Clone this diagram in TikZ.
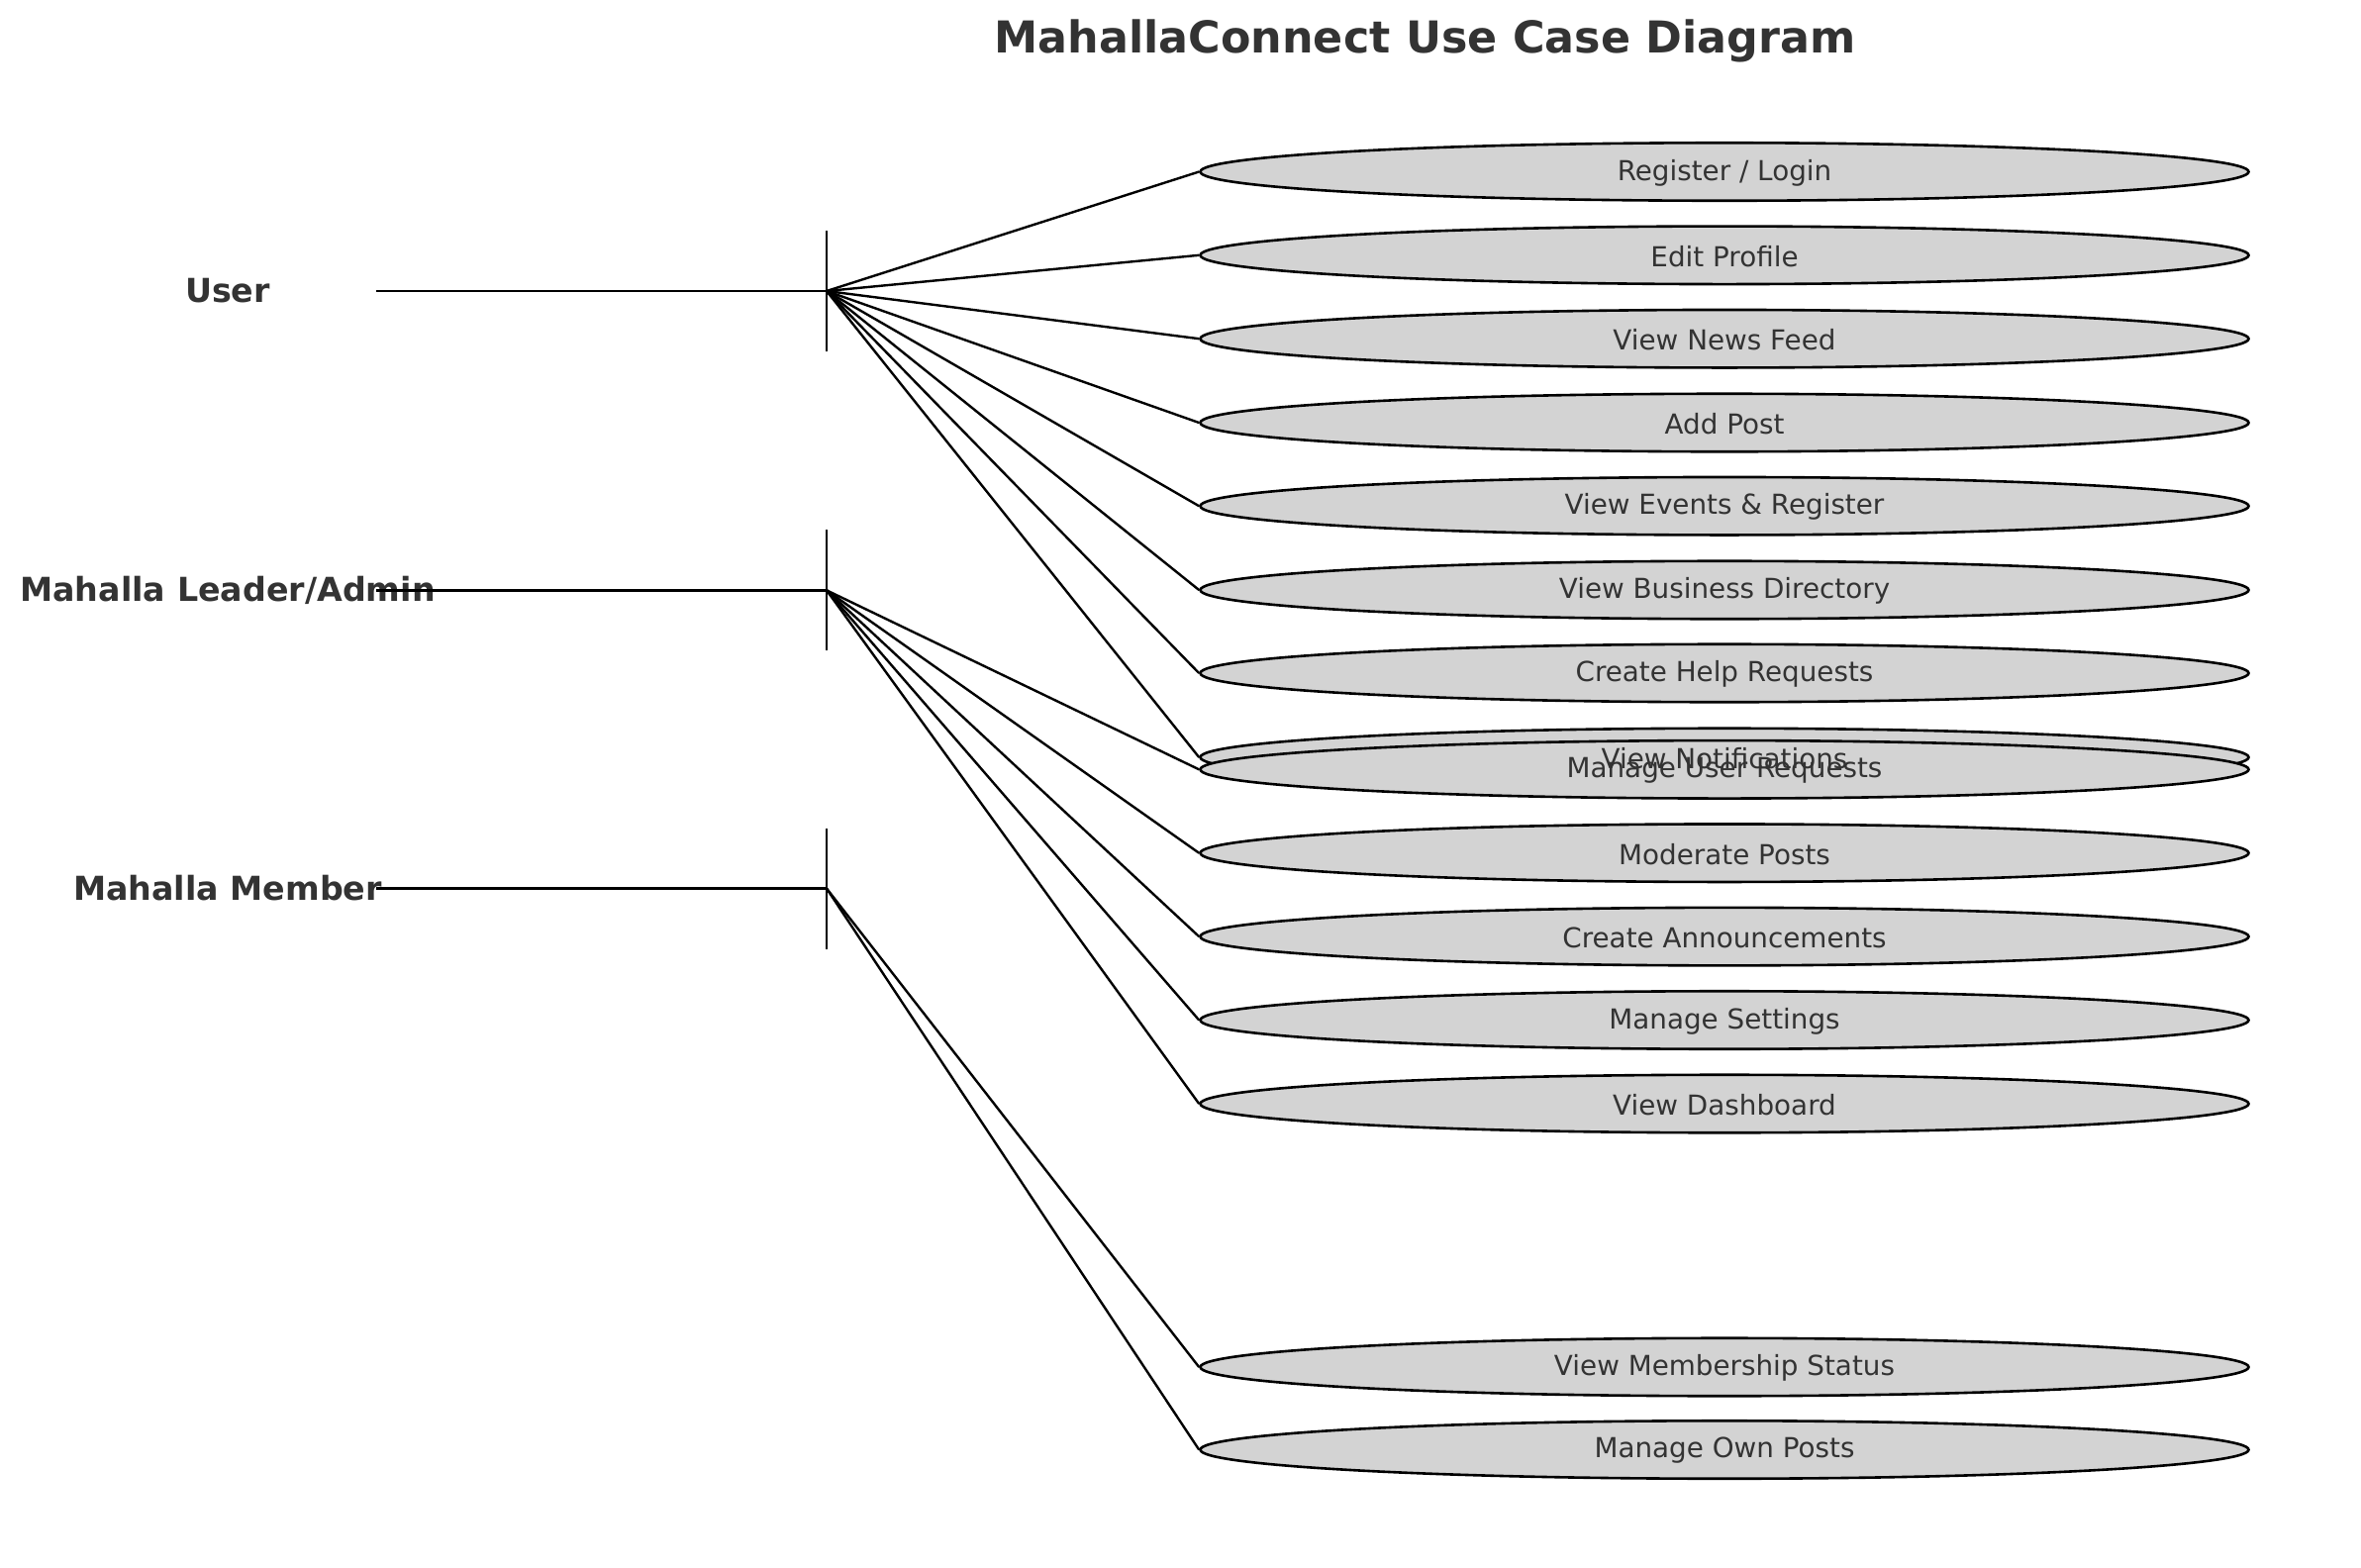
\documentclass[tikz,border=0pt]{standalone}
\usepackage{fontspec}
\setmainfont{DejaVu Sans}
\usetikzlibrary{shapes.geometric}
\definecolor{txt}{HTML}{333333}
\definecolor{ucfill}{HTML}{D3D3D3}
\tikzset{
  usecase/.style={ellipse, draw=black, line width=2.6pt, fill=ucfill, minimum width=1059pt, minimum height=58.5pt, inner sep=0pt},
  uctext/.style={text=txt, font=\fontsize{27.8}{33}\selectfont, inner sep=0pt, yshift=-1pt},
  actor/.style={text=txt, font=\fontsize{33.3}{40}\selectfont\bfseries, inner sep=0pt},
  conn/.style={line width=2.4pt, black},
  titlestyle/.style={text=txt, font=\fontsize{44.4}{52}\selectfont\bfseries, inner sep=0pt}
}
\begin{document}
\begin{tikzpicture}[x=1pt, y=-1pt]
\useasboundingbox (0,0) rectangle (2385,1583);
\node[titlestyle] (title) at (1439.5,41.5) {MahallaConnect Use Case Diagram};

% use case ellipses
\node[usecase] (uc1) at (1742,173.5) {};
\node[usecase] (uc2) at (1742,257.8) {};
\node[usecase] (uc3) at (1742,342.2) {};
\node[usecase] (uc4) at (1742,427) {};
\node[usecase] (uc5) at (1742,511.2) {};
\node[usecase] (uc6) at (1742,596) {};
\node[usecase] (uc7) at (1742,680) {};
\node[usecase] (uc8) at (1742,765) {};
\node[usecase] (uc9) at (1742,777.3) {};
\node[usecase] (uc10) at (1742,861.7) {};
\node[usecase] (uc11) at (1742,946.1) {};
\node[usecase] (uc12) at (1742,1030.5) {};
\node[usecase] (uc13) at (1742,1115) {};
\node[usecase] (uc14) at (1742,1381) {};
\node[usecase] (uc15) at (1742,1464.5) {};

% use case texts
\node[uctext] (t1) at (uc1.center) {Register / Login};
\node[uctext] (t2) at (uc2.center) {Edit Profile};
\node[uctext] (t3) at (uc3.center) {View News Feed};
\node[uctext] (t4) at (uc4.center) {Add Post};
\node[uctext] (t5) at (uc5.center) {View Events \& Register};
\node[uctext] (t6) at (uc6.center) {View Business Directory};
\node[uctext] (t7) at (uc7.center) {Create Help Requests};
\node[uctext] (t8) at (uc8.center) {View Notifications};
\node[uctext] (t9) at (uc9.center) {Manage User Requests};
\node[uctext] (t10) at (uc10.center) {Moderate Posts};
\node[uctext] (t11) at (uc11.center) {Create Announcements};
\node[uctext] (t12) at (uc12.center) {Manage Settings};
\node[uctext] (t13) at (uc13.center) {View Dashboard};
\node[uctext] (t14) at (uc14.center) {View Membership Status};
\node[uctext] (t15) at (uc15.center) {Manage Own Posts};

% actors
\node[actor] (user) at (230,294) {User};
\node[actor] (admin) at (230,596.3) {Mahalla Leader/Admin};
\node[actor] (member) at (230,897.5) {Mahalla Member};

\coordinate (userL) at (380,294);
\coordinate (userJ) at (835,294);
\coordinate (userT) at (835,233);
\coordinate (userB) at (835,355);
\coordinate (adminL) at (380,596.3);
\coordinate (adminJ) at (835,596.3);
\coordinate (adminT) at (835,535.3);
\coordinate (adminB) at (835,657.3);
\coordinate (memberL) at (380,897.5);
\coordinate (memberJ) at (835,897.5);
\coordinate (memberT) at (835,836.5);
\coordinate (memberB) at (835,958.5);

\draw[conn] (userL) -- (userJ);
\draw[conn] (userT) -- (userB);
\draw[conn] (adminL) -- (adminJ);
\draw[conn] (adminT) -- (adminB);
\draw[conn] (memberL) -- (memberJ);
\draw[conn] (memberT) -- (memberB);

\foreach \u in {uc1,uc2,uc3,uc4,uc5,uc6,uc7,uc8}
  \draw[conn] (userJ) -- (\u.west);
\foreach \u in {uc9,uc10,uc11,uc12,uc13}
  \draw[conn] (adminJ) -- (\u.west);
\foreach \u in {uc14,uc15}
  \draw[conn] (memberJ) -- (\u.west);
\end{tikzpicture}
\end{document}
